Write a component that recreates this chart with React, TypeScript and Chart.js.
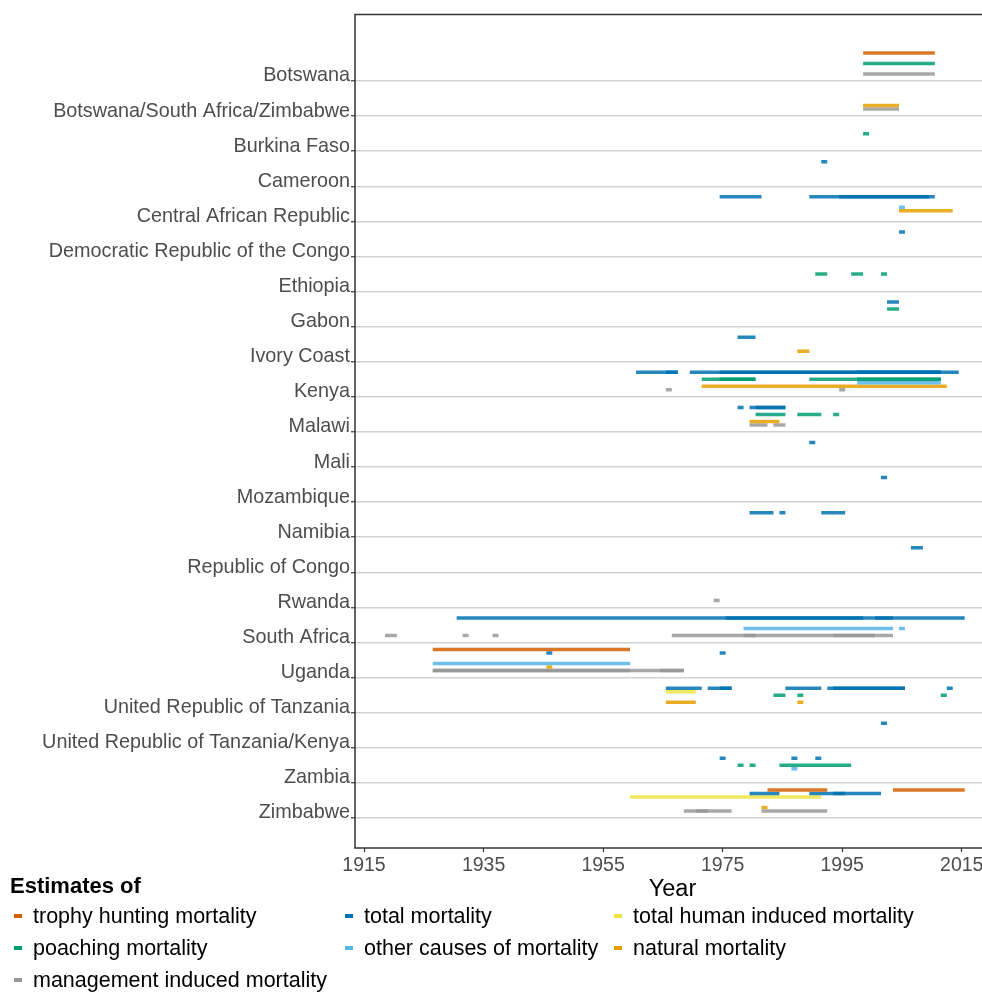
import React, { useEffect, useRef } from 'react';
import { Chart, registerables } from 'chart.js';

Chart.register(...registerables);

const FONT = "'Liberation Sans', Arial, Helvetica, sans-serif";

const countries = [
  'Botswana',
  'Botswana/South Africa/Zimbabwe',
  'Burkina Faso',
  'Cameroon',
  'Central African Republic',
  'Democratic Republic of the Congo',
  'Ethiopia',
  'Gabon',
  'Ivory Coast',
  'Kenya',
  'Malawi',
  'Mali',
  'Mozambique',
  'Namibia',
  'Republic of Congo',
  'Rwanda',
  'South Africa',
  'Uganda',
  'United Republic of Tanzania',
  'United Republic of Tanzania/Kenya',
  'Zambia',
  'Zimbabwe',
];

const estimateTypes = [
  'trophy hunting mortality',
  'total mortality',
  'total human induced mortality',
  'poaching mortality',
  'other causes of mortality',
  'natural mortality',
  'management induced mortality',
];

const typeColors = ['#D55E00', '#0072B2', '#F0E442', '#009E73', '#56B4E9', '#E69F00', '#999999'];

const yearTicks = [1915, 1935, 1955, 1975, 1995, 2015];

type Seg = [string, number, number];

const trophySegments: Seg[] = [
  ['Botswana', 1998.5, 2010.5],
  ['Uganda', 1926.5, 1959.5],
  ['Zimbabwe', 1982.5, 1992.5],
  ['Zimbabwe', 2003.5, 2015.5],
];

const totalSegments: Seg[] = [
  ['Cameroon', 1991.5, 1992.5],
  ['Central African Republic', 1974.5, 1981.5],
  ['Central African Republic', 1989.5, 2010.5],
  ['Central African Republic', 1994.5, 2009.5],
  ['Democratic Republic of the Congo', 2004.5, 2005.5],
  ['Gabon', 2002.5, 2004.5],
  ['Ivory Coast', 1977.5, 1980.5],
  ['Kenya', 1960.5, 1967.5],
  ['Kenya', 1965.5, 1967.5],
  ['Kenya', 1969.5, 2014.5],
  ['Kenya', 1974.5, 2011.5],
  ['Kenya', 1997.5, 2011.5],
  ['Malawi', 1977.5, 1978.5],
  ['Malawi', 1979.5, 1985.5],
  ['Malawi', 1980.5, 1985.5],
  ['Mali', 1989.5, 1990.5],
  ['Mozambique', 2001.5, 2002.5],
  ['Namibia', 1979.5, 1983.5],
  ['Namibia', 1984.5, 1985.5],
  ['Namibia', 1991.5, 1995.5],
  ['Republic of Congo', 2006.5, 2008.5],
  ['South Africa', 1930.5, 2015.5],
  ['South Africa', 1975.5, 1998.5],
  ['South Africa', 2000.5, 2003.5],
  ['Uganda', 1945.5, 1946.5],
  ['Uganda', 1974.5, 1975.5],
  ['United Republic of Tanzania', 1965.5, 1971.5],
  ['United Republic of Tanzania', 1972.5, 1976.5],
  ['United Republic of Tanzania', 1974.5, 1976.5],
  ['United Republic of Tanzania', 1985.5, 1991.5],
  ['United Republic of Tanzania', 1992.5, 2005.5],
  ['United Republic of Tanzania', 1993.5, 2005.5],
  ['United Republic of Tanzania', 2012.5, 2013.5],
  ['United Republic of Tanzania/Kenya', 2001.5, 2002.5],
  ['Zambia', 1974.5, 1975.5],
  ['Zambia', 1986.5, 1987.5],
  ['Zambia', 1990.5, 1991.5],
  ['Zimbabwe', 1979.5, 1984.5],
  ['Zimbabwe', 1989.5, 2001.5],
  ['Zimbabwe', 1993.5, 1995.5],
];

const humanSegments: Seg[] = [
  ['United Republic of Tanzania', 1965.5, 1970.5],
  ['Zimbabwe', 1959.5, 1991.5],
];

const poachingSegments: Seg[] = [
  ['Botswana', 1998.5, 2010.5],
  ['Burkina Faso', 1998.5, 1999.5],
  ['Ethiopia', 1990.5, 1992.5],
  ['Ethiopia', 1996.5, 1998.5],
  ['Ethiopia', 2001.5, 2002.5],
  ['Gabon', 2002.5, 2004.5],
  ['Kenya', 1971.5, 1980.5],
  ['Kenya', 1974.5, 1980.5],
  ['Kenya', 1989.5, 2011.5],
  ['Kenya', 1997.5, 2011.5],
  ['Malawi', 1980.5, 1985.5],
  ['Malawi', 1987.5, 1991.5],
  ['Malawi', 1993.5, 1994.5],
  ['United Republic of Tanzania', 1983.5, 1985.5],
  ['United Republic of Tanzania', 1987.5, 1988.5],
  ['United Republic of Tanzania', 2011.5, 2012.5],
  ['Zambia', 1977.5, 1978.5],
  ['Zambia', 1979.5, 1980.5],
  ['Zambia', 1984.5, 1996.5],
];

const otherSegments: Seg[] = [
  ['Central African Republic', 2004.5, 2005.5],
  ['Kenya', 1997.5, 2011.5],
  ['South Africa', 1978.5, 2003.5],
  ['South Africa', 2004.5, 2005.5],
  ['Uganda', 1926.5, 1959.5],
  ['Zambia', 1986.5, 1987.5],
];

const naturalSegments: Seg[] = [
  ['Botswana/South Africa/Zimbabwe', 1998.5, 2004.5],
  ['Central African Republic', 2004.5, 2013.5],
  ['Ivory Coast', 1987.5, 1989.5],
  ['Kenya', 1971.5, 2012.5],
  ['Malawi', 1979.5, 1984.5],
  ['Uganda', 1945.5, 1946.5],
  ['United Republic of Tanzania', 1965.5, 1970.5],
  ['United Republic of Tanzania', 1987.5, 1988.5],
  ['Zimbabwe', 1981.5, 1982.5],
];

const managementSegments: Seg[] = [
  ['Botswana', 1998.5, 2010.5],
  ['Botswana/South Africa/Zimbabwe', 1998.5, 2004.5],
  ['Kenya', 1965.5, 1966.5],
  ['Kenya', 1994.5, 1995.5],
  ['Malawi', 1979.5, 1982.5],
  ['Malawi', 1983.5, 1985.5],
  ['Rwanda', 1973.5, 1974.5],
  ['South Africa', 1918.5, 1920.5],
  ['South Africa', 1931.5, 1932.5],
  ['South Africa', 1936.5, 1937.5],
  ['South Africa', 1966.5, 2003.5],
  ['South Africa', 1978.5, 1980.5],
  ['South Africa', 1993.5, 2000.5],
  ['Uganda', 1926.5, 1968.5],
  ['Uganda', 1926.5, 1959.5],
  ['Uganda', 1964.5, 1968.5],
  ['Zimbabwe', 1968.5, 1976.5],
  ['Zimbabwe', 1970.5, 1972.5],
  ['Zimbabwe', 1981.5, 1992.5],
];

const segmentGroups = [
  trophySegments,
  totalSegments,
  humanSegments,
  poachingSegments,
  otherSegments,
  naturalSegments,
  managementSegments,
];

// vertical dodge of each estimate type inside a country band (in band units)
const typeDodge = [0.8, 0.7, 0.6, 0.5, 0.4, 0.3, 0.2];

const panelBorder = {
  id: 'panelBorder',
  afterDraw(chart: any) {
    const { ctx, chartArea } = chart;
    ctx.save();
    ctx.strokeStyle = '#333333';
    ctx.lineWidth = 1.5;
    ctx.strokeRect(chartArea.left, chartArea.top, chartArea.right - chartArea.left, chartArea.bottom - chartArea.top);
    ctx.restore();
  },
};

const W = 990;
const H = 992;

export default function App() {
  const ref = useRef<HTMLCanvasElement | null>(null);

  useEffect(() => {
    if (!ref.current) return;
    const datasets: any[] = [];
    segmentGroups.forEach((segs, t) => {
      segs.forEach(([c, s, e]) => {
        const y = countries.indexOf(c) - typeDodge[t];
        datasets.push({
          label: estimateTypes[t],
          data: [
            { x: s, y },
            { x: e, y },
          ],
          borderColor: typeColors[t] + 'd9',
          borderWidth: 3.5,
          borderCapStyle: 'butt',
          pointRadius: 0,
          pointHoverRadius: 0,
          fill: false,
          tension: 0,
        });
      });
    });

    const chart = new Chart(ref.current, {
      type: 'line',
      data: { datasets },
      plugins: [panelBorder],
      options: {
        responsive: false,
        animation: false,
        devicePixelRatio: window.devicePixelRatio || 1,
        events: [],
        layout: { padding: { top: 14.5, left: 0, right: 0, bottom: 0 } },
        plugins: { legend: { display: false }, tooltip: { enabled: false } },
        scales: {
          x: {
            type: 'linear',
            min: 1913.49,
            max: 2019.73,
            afterBuildTicks: (s: any) => {
              s.ticks = yearTicks.map((v) => ({ value: v }));
            },
            afterFit: (s: any) => {
              s.height = 144;
              s.paddingLeft = 0;
              s.paddingRight = 0;
            },
            ticks: {
              callback: (v: any) => String(v),
              font: { family: FONT, size: 19.5 },
              color: '#4d4d4d',
              padding: 2,
              maxRotation: 0,
              autoSkip: false,
            },
            grid: {
              display: true,
              drawOnChartArea: false,
              drawTicks: true,
              tickLength: 4,
              tickColor: '#333333',
              tickWidth: 1.2,
            },
            border: { display: false },
            title: {
              display: true,
              text: 'Year',
              font: { family: FONT, size: 23.5 },
              color: '#000000',
              padding: { top: 0, bottom: 88 },
            },
          },
          y: {
            type: 'linear',
            reverse: true,
            min: -1.895,
            max: 21.855,
            afterBuildTicks: (s: any) => {
              s.ticks = countries.map((_, i) => ({ value: i }));
            },
            afterFit: (s: any) => {
              s.width = 355;
              s.paddingTop = 0;
              s.paddingBottom = 0;
            },
            ticks: {
              callback: (v: any) => countries[v] ?? '',
              font: { family: FONT, size: 19.8 },
              color: '#4d4d4d',
              padding: 1,
              labelOffset: -5,
              autoSkip: false,
            },
            grid: {
              color: '#d2d2d2',
              lineWidth: 1.5,
              drawTicks: true,
              tickLength: 4,
              tickColor: '#333333',
              tickWidth: 1.2,
            },
            border: { display: false },
          },
        },
      } as any,
    });
    return () => chart.destroy();
  }, []);

  const colX = [33, 364, 633];
  const rowY = [916, 948, 980];

  return (
    <div
      style={{
        position: 'absolute',
        left: 0,
        top: 0,
        width: 982,
        height: 992,
        overflow: 'hidden',
        background: '#ffffff',
      }}
    >
      <canvas ref={ref} width={W} height={H} style={{ width: W, height: H, display: 'block' }} />
      <div
        style={{
          position: 'absolute',
          left: 10,
          top: 886 - 11,
          fontFamily: FONT,
          fontWeight: 'bold',
          fontSize: 22,
          lineHeight: '22px',
          color: '#000',
          whiteSpace: 'nowrap',
        }}
      >
        Estimates of
      </div>
      {estimateTypes.map((name, i) => {
        const x = colX[i % 3];
        const y = rowY[Math.floor(i / 3)];
        return (
          <React.Fragment key={name}>
            <div
              style={{
                position: 'absolute',
                left: x - 19,
                top: y - 1.75,
                width: 8,
                height: 3.5,
                background: typeColors[i],
              }}
            />
            <div
              style={{
                position: 'absolute',
                left: x,
                top: y - 11,
                fontFamily: FONT,
                fontSize: 21.5,
                lineHeight: '22px',
                color: '#000',
                whiteSpace: 'nowrap',
              }}
            >
              {name}
            </div>
          </React.Fragment>
        );
      })}
    </div>
  );
}
